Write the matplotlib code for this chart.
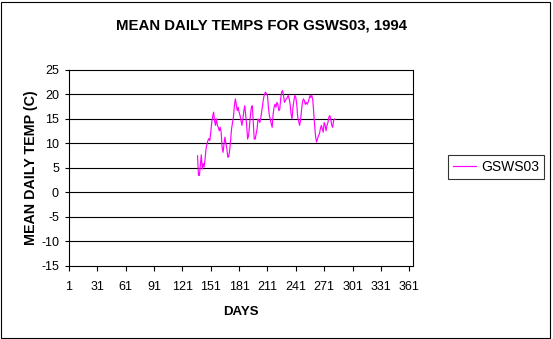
import numpy as np
import matplotlib
matplotlib.use("Agg")
import matplotlib.pyplot as plt
from matplotlib.patches import Rectangle

plt.rcParams['font.family'] = ['Liberation Sans', 'DejaVu Sans']
plt.rcParams['axes.unicode_minus'] = False

start_day = 137
temps = [
    7.5, 3.5, 3.5, 5.5, 7.7, 4.8, 5.9, 5.2, 6.9, 8.9, 9.9,
    10.6, 11.0, 10.6, 12.3, 14.3, 15.5, 16.4, 14.7, 13.7, 15.0, 13.7,
    13.3, 12.6, 13.3, 12.3, 9.2, 8.2, 9.9, 11.3, 10.0, 9.0, 7.2,
    7.3, 8.6, 10.6, 13.0, 14.2, 15.4, 17.7, 19.1, 18.0, 16.7, 17.4,
    16.4, 15.7, 14.7, 13.7, 15.0, 16.7, 17.7, 15.8, 13.7, 10.9, 11.6,
    13.7, 15.7, 17.4, 17.7, 14.3, 10.9, 10.9, 12.0, 13.0, 15.0, 14.7,
    14.3, 15.3, 16.7, 18.0, 19.4, 20.1, 20.5, 20.1, 19.8, 17.4, 15.7, 15.0, 14.0,
    13.3, 16.0, 17.4, 18.0, 17.4, 18.4, 18.0, 16.7, 17.0, 19.1,
    20.5, 20.8, 19.8, 18.4, 18.8, 19.1, 19.4, 19.8, 19.1, 18.0,
    16.0, 15.0, 17.4, 18.8, 19.8, 19.4, 18.0, 15.4, 14.5, 13.7, 14.7,
    16.7, 18.4, 19.1, 18.8, 18.0, 18.4, 18.0, 18.4, 19.1, 19.8,
    19.4, 19.8, 18.8, 16.0, 13.5, 11.3, 10.3, 11.0, 11.6, 12.0, 13.0,
    13.7, 13.0, 12.3, 14.3, 13.7, 12.6, 13.7, 14.3, 15.4, 15.7,
    15.0, 13.7, 13.3, 14.7, 15.0,
]
days = np.arange(start_day, start_day + len(temps))
series_name = "GSWS03"
x_ticks = list(range(1, 362, 30))
y_ticks = list(range(-15, 26, 5))

W, H = 553, 339
fig = plt.figure(figsize=(W / 100, H / 100), dpi=100)
fig.patch.set_facecolor('white')
ax = fig.add_axes([69 / W, 1 - 266 / H, (413 - 69) / W, (266 - 70) / H])

ax.plot(days, temps, color='#FF00FF', lw=0.85, label=series_name)
ax.set_xlim(1, 365)
ax.set_ylim(-15, 25)
ax.set_xticks(x_ticks)
ax.set_yticks(y_ticks)
ax.tick_params(axis='x', direction='out', length=3.6, width=0.8, color='black',
               labelsize=9, pad=7.5)
ax.tick_params(axis='y', direction='out', length=2.7, width=0.8, color='black',
               labelsize=9, pad=4.5)
for y in y_ticks[1:-1]:
    ax.axhline(y, color='black', lw=0.8, zorder=0.5)
for s in ax.spines.values():
    s.set_color('black')
    s.set_linewidth(0.8)

ax.set_xlabel('DAYS', fontsize=9.5, fontweight='bold', labelpad=9)
ax.set_ylabel('MEAN DAILY TEMP (C)', fontsize=10.3, fontweight='bold', labelpad=2)
fig.text(261 / W, 1 - 26 / H, 'MEAN DAILY TEMPS FOR GSWS03, 1994',
         ha='center', va='center', fontsize=10.8, fontweight='bold')

leg = ax.legend(loc='center left', bbox_to_anchor=(448 / W, 1 - 167 / H),
                bbox_transform=fig.transFigure, frameon=True, fancybox=False,
                fontsize=10, handlelength=1.65, borderpad=0.35, handletextpad=0.36,
                borderaxespad=0)
leg.get_frame().set_edgecolor('black')
leg.get_frame().set_linewidth(0.8)

fig.add_artist(Rectangle((0.5 / W, 1.5 / H), 549 / W, 336 / H,
                         transform=fig.transFigure, fill=False,
                         edgecolor='black', lw=0.8))

fig.savefig('out.png', dpi=100)
